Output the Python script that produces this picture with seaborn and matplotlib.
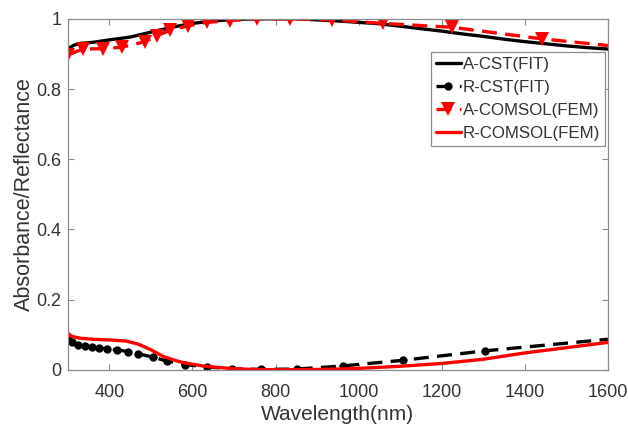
import matplotlib
matplotlib.use("Agg")
import matplotlib.pyplot as plt
import seaborn as sns

# Absorbance, CST (FIT)
a_cst_wl = [300, 315, 330, 360, 400, 450, 500, 550, 600, 650, 700, 750, 800, 850, 900,
            950, 1000, 1050, 1100, 1150, 1200, 1250, 1300, 1350, 1400, 1450, 1500, 1550, 1600]
a_cst_val = [0.915, 0.925, 0.930, 0.933, 0.940, 0.948, 0.962, 0.976, 0.987, 0.994, 0.998,
             1.000, 1.000, 1.000, 0.997, 0.994, 0.990, 0.986, 0.979, 0.972, 0.965, 0.957,
             0.950, 0.942, 0.935, 0.929, 0.923, 0.918, 0.914]

# Reflectance, CST (FIT)
r_cst_wl = [300, 310, 324, 341, 358, 375, 394, 418, 444, 468, 505, 538, 582, 635, 695,
            765, 851, 962, 1106, 1304, 1600]
r_cst_val = [0.086, 0.078, 0.071, 0.067, 0.064, 0.062, 0.060, 0.057, 0.052, 0.046, 0.036,
             0.025, 0.015, 0.008, 0.003, 0.001, 0.002, 0.011, 0.027, 0.054, 0.087]

# Absorbance, COMSOL (FEM)
a_fem_wl = [300, 336, 384, 430, 486, 514, 546, 589, 634, 690, 755, 834, 936, 1058, 1224,
            1441, 1600]
a_fem_val = [0.897, 0.914, 0.915, 0.919, 0.935, 0.952, 0.967, 0.980, 0.990, 0.995, 1.000,
             1.000, 0.997, 0.987, 0.976, 0.943, 0.924]

# Reflectance, COMSOL (FEM)
r_fem_wl = [300, 310, 330, 360, 400, 440, 470, 500, 530, 560, 580, 630, 700, 750, 800,
            900, 950, 1000, 1100, 1200, 1300, 1400, 1500, 1600]
r_fem_val = [0.104, 0.095, 0.090, 0.087, 0.085, 0.082, 0.073, 0.057, 0.038, 0.026, 0.020,
             0.010, 0.003, 0.001, 0.000, 0.001, 0.002, 0.004, 0.010, 0.018, 0.030, 0.048,
             0.063, 0.078]

x_ticks = [400, 600, 800, 1000, 1200, 1400, 1600]
y_ticks = [0, 0.2, 0.4, 0.6, 0.8, 1.0]
y_tick_labels = ["0", "0.2", "0.4", "0.6", "0.8", "1"]

sns.set_style("white")
plt.rcParams["font.family"] = ["Liberation Sans", "DejaVu Sans"]

fig = plt.figure(figsize=(6.28, 4.28), dpi=100)
ax = fig.add_axes([0.108, 0.136, 0.860, 0.820])

sns.lineplot(x=a_cst_wl, y=a_cst_val, ax=ax, color="black", lw=2.4,
             label="A-CST(FIT)")
sns.lineplot(x=r_cst_wl, y=r_cst_val, ax=ax, color="black", lw=2.4,
             marker="o", markersize=6, markeredgewidth=0, dashes=(4.5, 2.5),
             markevery=list(range(len(r_cst_wl) - 1)), label="R-CST(FIT)")
sns.lineplot(x=a_fem_wl, y=a_fem_val, ax=ax, color="#ff0000", lw=2.4,
             marker="v", markersize=9.5, markeredgewidth=0, dashes=(4.5, 2.5),
             markevery=list(range(len(a_fem_wl) - 1)), label="A-COMSOL(FEM)")
sns.lineplot(x=r_fem_wl, y=r_fem_val, ax=ax, color="#ff0000", lw=2.4,
             label="R-COMSOL(FEM)")

ax.set_xlim(300, 1600)
ax.set_ylim(0, 1)
ax.set_xticks(x_ticks)
ax.set_yticks(y_ticks)
ax.set_yticklabels(y_tick_labels)
ax.tick_params(direction="in", length=4, width=0.8, color="#8c8c8c",
               labelsize=13, labelcolor="#333333", top=True, right=True,
               bottom=True, left=True)
ax.tick_params(axis="x", pad=10)
ax.tick_params(axis="y", pad=4.5)
for s in ax.spines.values():
    s.set_color("#8c8c8c")
    s.set_linewidth(0.9)

ax.set_xlabel("Wavelength(nm)", fontsize=15, color="#333333", labelpad=3)
ax.set_ylabel("Absorbance/Reflectance", fontsize=15.5, color="#333333", labelpad=1)

leg = ax.legend(loc="upper right", bbox_to_anchor=(0.995, 0.905), fontsize=12.2,
                frameon=True, fancybox=False, framealpha=1, edgecolor="#8c8c8c",
                handlelength=1.5, handletextpad=0.1, borderpad=0.3,
                labelspacing=0.47, borderaxespad=0)
leg.get_frame().set_linewidth(0.9)
for t in leg.get_texts():
    t.set_color("#333333")

fig.savefig("out.png", dpi=100)
